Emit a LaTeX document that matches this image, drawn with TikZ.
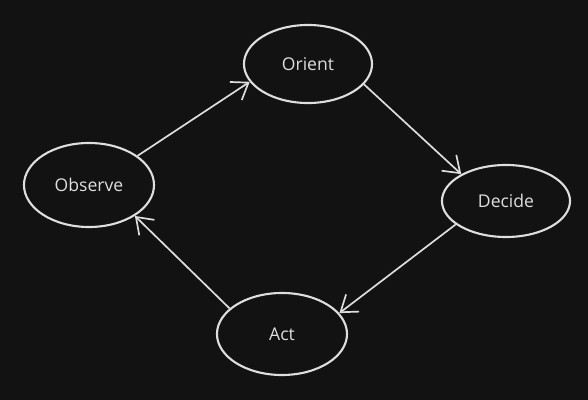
\documentclass[tikz,border=0pt]{standalone}
\usepackage{fontspec}
\setmainfont{Open Sans}
\usepackage{tikz}
\usetikzlibrary{arrows.meta,positioning,shapes.geometric}
\definecolor{night}{RGB}{18,18,18}
\definecolor{chalk}{RGB}{222,222,222}
\tikzset{
  >={Straight Barb[length=3.8mm,width=5.4mm]},
  phase/.style={ellipse,draw=chalk,line width=1.5pt,inner sep=0pt,
    minimum width=#1,text=chalk,font=\fontsize{12.5}{14}\selectfont},
  phase/.default=3.2cm,
  loop/.style={->,draw=chalk,line width=1.2pt},
}
\begin{document}
\begin{tikzpicture}[x=0.025cm,y=-0.025cm]
    \fill[night] (0,0) rectangle (588,400);
    \useasboundingbox (0,0) rectangle (588,400);
    \node[phase=3.2cm,minimum height=1.95cm] (orient) at (308,64) {Orient};
    \node[phase=3.25cm,minimum height=2.1cm] (observe) at (89,185) {Observe};
    \node[phase=3.2cm,minimum height=1.8cm] (decide) at (506,201) {Decide};
    \node[phase=3.25cm,minimum height=2.05cm] (act) at (282,334) {Act};
    % the loop
    \draw[loop] (observe.31) -- (orient.197);
    \draw[loop] (orient.-20) -- (decide.149);
    \draw[loop] (decide.205) -- (act.20);
    \draw[loop] (act.154) -- (observe.-34);
\end{tikzpicture}
\end{document}
